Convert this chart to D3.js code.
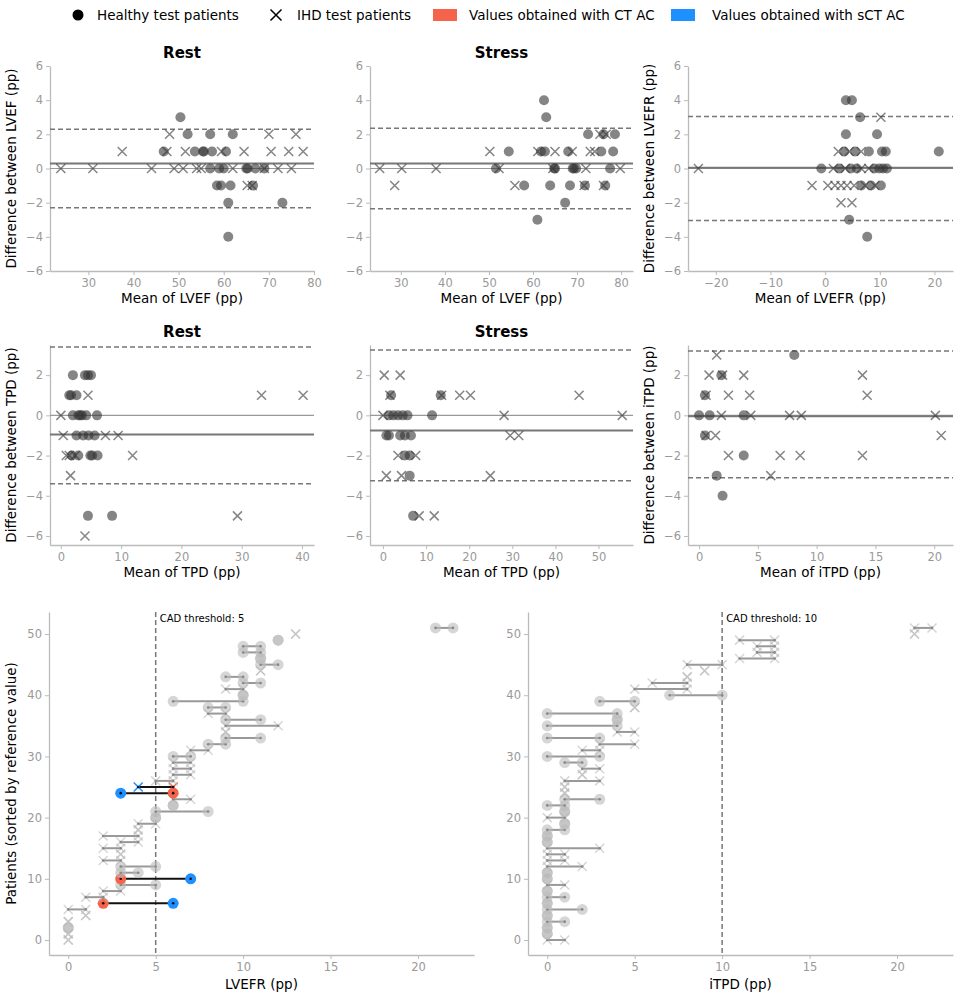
<!DOCTYPE html>
<html><head><meta charset="utf-8">
<script src="https://cdn.jsdelivr.net/npm/d3@7"></script>
<style>body{margin:0;background:#fff;font-family:"DejaVu Sans",sans-serif}</style>
</head><body><svg id="c" width="962" height="999"></svg>
<script>
// ---------- DATA ----------
const lvefRestHealthy=[[50.4,3],[52,2],[57,2],[62,2],[46.7,1],[53.6,1],[55.4,1],[55.6,1],[57.4,1],[60.5,1],[57,0],[59,0],[60,0],[65,0],[65.3,0],[67,0],[69,0],[58.5,-1],[59.4,-1],[61.5,-1],[66.5,-1],[61,-2],[73,-2],[61,-4]];
const lvefRestIHD=[[23.9,0],[31,0],[44,0],[49,0],[51,0],[54,0],[55,0],[62,0],[69,0],[72,0],[75,0],[37.5,1],[47.4,1],[51.5,1],[59.5,1],[64.5,1],[70.5,1],[74.4,1],[77.6,1],[48,2],[70,2],[76,2],[65.2,-1],[66.3,-1]];
const lvefStressHealthy=[[62.5,4],[63,3],[72.5,2],[76,2],[78.6,2],[54.5,1],[68,1],[61.8,1],[62.7,1],[75.5,1],[78.2,1],[51.6,0],[65,0],[69,0],[69.3,0],[69.8,0],[77.5,0],[64.8,0],[58,-1],[63.9,-1],[68.4,-1],[71.8,-1],[76.4,-1],[67.3,-2],[61,-3]];
const lvefStressIHD=[[25.2,0],[30.2,0],[38,0],[52.3,0],[64.5,0],[79.8,0],[72,0],[28.6,-1],[55.9,-1],[71.6,-1],[76,-1],[50.2,1],[61.1,1],[65,1],[68.9,1],[73,1],[74,1],[75.2,2],[76.6,2]];
const lvefrHealthy=[[3.8,4],[4.9,4],[6.4,3],[3.8,2],[9.5,2],[3.5,1],[5.5,1],[8,1],[10.4,1],[11.1,1],[20.8,1],[-0.7,0],[2.6,0],[4.7,0],[5.8,0],[9,0],[9.9,0],[10.6,0],[11.3,0],[6.6,-1],[8.4,-1],[10.2,-1],[4.4,-3],[7.7,-4]];
const lvefrIHD=[[-23.2,0],[1.5,0],[3.7,0],[6.6,0],[8,0],[-2.4,-1],[0.5,-1],[1.8,-1],[2.9,-1],[4,-1],[5.3,-1],[7.3,-1],[9.1,-1],[2.4,1],[4.4,1],[6.6,1],[2.9,-2],[4.9,-2],[10.2,3]];
const tpdRestHealthy=[[2,2],[4,2],[5,2],[4.5,2],[1.4,1],[1.7,1],[2.6,1],[2,0],[2.9,0],[3.2,0],[3.5,0],[4.2,0],[6,0],[2.6,-1],[3.7,-1],[4.6,-1],[5.6,-1],[1.8,-2],[2.9,-2],[4.9,-2],[5.2,-2],[6.1,-2],[4.5,-5],[8.5,-5]];
const tpdRestIHD=[[0,0],[0.4,-1],[0.9,-2],[1.4,-2],[4.5,1],[33.3,1],[40.2,1],[7.4,-1],[9.5,-1],[11.9,-2],[1.6,-3],[29.3,-5],[4,-6],[2.4,-2]];
const tpdStressHealthy=[[1.4,0],[2.4,0],[3.5,0],[4.6,0],[5.7,0],[11.4,0],[0.8,-1],[1.4,-1],[4,-1],[5.1,-1],[6.5,-1],[5.1,-2],[6.2,-2],[6.2,-3],[7,-5],[1.9,1],[13.4,1]];
const tpdStressIHD=[[0.3,2],[4,2],[1.6,1],[13.6,1],[17.8,1],[20.3,1],[45.5,1],[0,0],[28.1,0],[55.5,0],[29.5,-1],[31.5,-1],[3.5,-2],[7.6,-2],[0.8,-3],[4.3,-3],[24.9,-3],[8.4,-5],[11.9,-5]];
const itpdHealthy=[[0,0],[0.9,0],[3.8,0],[0.5,1],[0.5,-1],[1.5,-3],[2,-4],[8.1,3],[3.8,-2],[1.9,2]];
const itpdIHD=[[1.5,3],[0.85,2],[2,2],[3.8,2],[13.9,2],[0.6,1],[2.5,1],[4.3,1],[14.3,1],[1.9,0],[4.4,0],[7.7,0],[8.7,0],[20.1,0],[1.4,-1],[20.6,-1],[2.5,-2],[6.9,-2],[8.6,-2],[13.9,-2],[6.1,-3],[0.6,-1]];
const baStats=[[0.3,2.3,-2.3],[0.3,2.35,-2.35],[0.05,3.05,-3.05],[-0.95,3.4,-3.4],[-0.75,3.25,-3.25],[-0.05,3.2,-3.1]];
// Dumbbell panels: indices of healthy patients (others IHD), CT value, sCT value
const lvefrHealthyRows=[2,6,9,10,11,12,20,21,22,24,30,32,33,36,38,39,40,42,43,45,46,47,48,49,51];
const lvefrCT =[0,0,0,0,1,0,2,1,2,3,3,3,3,2,3,2,3,2,4,4,5,5,6,6,6,6,5,6,6,6,6,7,8,9,9,9,9,8,8,6,10,9,10,9,11,11,11,10,10,12,13,21];
const lvefrSCT=[0,0,0,0,1,1,6,2,3,5,7,4,5,3,3,3,4,4,4,5,5,8,6,7,3,4,6,7,7,7,7,8,9,11,9,12,11,9,9,10,10,10,11,10,11,12,11,11,11,12,13,22];
const itpdHealthyRows=[1,2,3,4,5,6,7,8,10,11,16,17,18,19,21,22,23,29,30,33,35,36,37,39,40];
const itpdCT =[0,0,0,0,0,0,0,0,0,0,0,0,0,0,0,0,0,0,0,1,0,1,0,1,1,1,1,2,2,1,0,2,3,0,4,0,4,0,5,3,7,5,6,8,9,8,11,12,12,11,21,21];
const itpdSCT=[1,0,0,1,0,2,0,1,0,1,0,0,2,1,1,3,0,0,1,1,1,1,1,3,1,1,3,2,3,2,3,3,5,3,5,4,4,4,5,5,10,8,8,8,9,10,13,13,13,13,21,22];
const highlightL=[6,10,24,25];
const xTicks=[[30,40,50,60,70,80],[30,40,50,60,70,80],[-20,-10,0,10,20],[0,10,20,30,40],[0,10,20,30,40,50],[0,5,10,15,20]];

// ---------- DRAW ----------
const svg=d3.select("#c");
const AX="#bbb",TK="#999";
function axes(g,x,y,xt,yt){
  const xa=g.append("g").attr("transform",`translate(0,${y.range()[0]})`).call(d3.axisBottom(x).tickValues(xt).tickSize(4).tickPadding(4).tickSizeOuter(0).tickFormat(d=>String(d).replace("-","−")));
  const ya=g.append("g").attr("transform",`translate(${x.range()[0]},0)`).call(d3.axisLeft(y).tickValues(yt).tickSize(4).tickSizeOuter(0).tickFormat(d=>String(d).replace("-","−")));
  [xa,ya].forEach(a=>{a.select(".domain").attr("stroke",AX).attr("stroke-width",1.3);a.selectAll("line").attr("stroke",AX);a.selectAll("text").attr("fill",TK).attr("font-size",11.5).attr("font-family","DejaVu Sans");});
}
function xmark(g,cx,cy,s,col,op,w){
  g.append("path").attr("d",`M${cx-s},${cy-s}L${cx+s},${cy+s}M${cx-s},${cy+s}L${cx+s},${cy-s}`).attr("stroke",col).attr("stroke-opacity",op).attr("stroke-width",w).attr("fill","none");
}
function ba(i,L,R,T,B,xd,yd,yt,hl,ih,title,xl,yl){
  const g=svg.append("g");
  const x=d3.scaleLinear().domain(xd).range([L,R]);
  const y=d3.scaleLinear().domain(yd).range([B,T]);
  axes(g,x,y,xTicks[i],yt);
  const st=baStats[i];
  g.append("line").attr("x1",L).attr("x2",R).attr("y1",y(0)).attr("y2",y(0)).attr("stroke","#999").attr("stroke-width",1.2);
  g.append("line").attr("x1",L).attr("x2",R).attr("y1",y(st[0])).attr("y2",y(st[0])).attr("stroke","#777").attr("stroke-width",2);
  [st[1],st[2]].forEach(v=>g.append("line").attr("x1",L).attr("x2",R).attr("y1",y(v)).attr("y2",y(v)).attr("stroke","#777").attr("stroke-width",1.5).attr("stroke-dasharray","5,3"));
  hl.forEach(d=>g.append("circle").attr("cx",x(d[0])).attr("cy",y(d[1])).attr("r",5).attr("fill","#333").attr("fill-opacity",0.6));
  ih.forEach(d=>xmark(g,x(d[0]),y(d[1]),4.5,"#333",0.6,1.5));
  if(title) g.append("text").attr("x",(L+R)/2).attr("y",T-8).attr("text-anchor","middle").attr("font-weight","bold").attr("font-size",15).text(title);
  g.append("text").attr("x",(L+R)/2).attr("y",B+32).attr("text-anchor","middle").attr("font-size",13.5).text(xl);
  if(yl) g.append("text").attr("transform",`translate(${L-34},${(T+B)/2}) rotate(-90)`).attr("text-anchor","middle").attr("font-size",13.5).text(yl);
}
const y6=[-6,-4,-2,0,2,4,6], y2=[-6,-4,-2,0,2];
ba(0,50,314,66,271,[21.5,80],[-6,6],y6,lvefRestHealthy,lvefRestIHD,"Rest","Mean of LVEF (pp)","Difference between LVEF (pp)");
ba(1,370,633,66,271,[23,82.7],[-6,6],y6,lvefStressHealthy,lvefStressIHD,"Stress","Mean of LVEF (pp)","");
ba(2,688,953,66,271,[-25.1,23.4],[-6,6],y6,lvefrHealthy,lvefrIHD,"","Mean of LVEFR (pp)","Difference between LVEFR (pp)");
ba(3,50,314,345,545,[-1.8,42],[-6.45,3.5],y2,tpdRestHealthy,tpdRestIHD,"Rest","Mean of TPD (pp)","Difference between TPD (pp)");
ba(4,370,633,345,545,[-3,58],[-6.45,3.5],y2,tpdStressHealthy,tpdStressIHD,"Stress","Mean of TPD (pp)","");
ba(5,688,953,345,545,[-0.94,21.6],[-6.45,3.5],y2,itpdHealthy,itpdIHD,"","Mean of iTPD (pp)","Difference between iTPD (pp)");

function dumb(L,R,T,B,hrows,ct,sct,hi,thr,xl,yl){
  const g=svg.append("g");
  const x=d3.scaleLinear().domain([-1.1,23.2]).range([L,R]);
  const y=d3.scaleLinear().domain([-2.45,53.6]).range([B,T]);
  axes(g,x,y,[0,5,10,15,20],[0,10,20,30,40,50]);
  g.append("line").attr("x1",x(thr)).attr("x2",x(thr)).attr("y1",T).attr("y2",B).attr("stroke","#777").attr("stroke-width",1.5).attr("stroke-dasharray","5,3");
  g.append("text").attr("x",x(thr)+4).attr("y",T+10).attr("font-size",10).text("CAD threshold: "+thr);
  ct.forEach((a,i)=>{
    const h=hi.includes(i), healthy=hrows.includes(i);
    const b=sct[i];
    if(a!==b) g.append("line").attr("x1",x(a)).attr("x2",x(b)).attr("y1",y(i)).attr("y2",y(i)).attr("stroke",h?"#111":"#999").attr("stroke-width",2);
    [[a,"#f4634a"],[b,"#1e90ff"]].forEach(([v,c])=>{
      const col=h?c:"#bbb", op=h?1:0.6;
      if(healthy) g.append("circle").attr("cx",x(v)).attr("cy",y(i)).attr("r",5.5).attr("fill",col).attr("fill-opacity",op);
      else xmark(g,x(v),y(i),4.5,col,op,1.5);
      if(a!==b) g.append("circle").attr("cx",x(v)).attr("cy",y(i)).attr("r",1.3).attr("fill",h?"#111":"#888");
    });
  });
  g.append("text").attr("x",(L+R)/2).attr("y",B+34).attr("text-anchor","middle").attr("font-size",13.5).text(xl);
  if(yl) g.append("text").attr("transform",`translate(${L-33},${(T+B)/2}) rotate(-90)`).attr("text-anchor","middle").attr("font-size",13.5).text(yl);
}
dumb(49,474,612,955,lvefrHealthyRows,lvefrCT,lvefrSCT,highlightL,5,"LVEFR (pp)","Patients (sorted by reference value)");
dumb(528,953,612,955,itpdHealthyRows,itpdCT,itpdSCT,[],10,"iTPD (pp)","");

const lg=svg.append("g").attr("font-size",13.5);
lg.append("circle").attr("cx",78).attr("cy",15).attr("r",5.5).attr("fill","#000");
lg.append("text").attr("x",97).attr("y",20).text("Healthy test patients");
xmark(lg,276,15,5.5,"#000",1,1.5);
lg.append("text").attr("x",297).attr("y",20).text("IHD test patients");
lg.append("rect").attr("x",433).attr("y",9).attr("width",24).attr("height",12).attr("fill","#f4634a");
lg.append("text").attr("x",469).attr("y",20).text("Values obtained with CT AC");
lg.append("rect").attr("x",671).attr("y",9).attr("width",24).attr("height",12).attr("fill","#1e90ff");
lg.append("text").attr("x",712).attr("y",20).text("Values obtained with sCT AC");
</script></body></html>
